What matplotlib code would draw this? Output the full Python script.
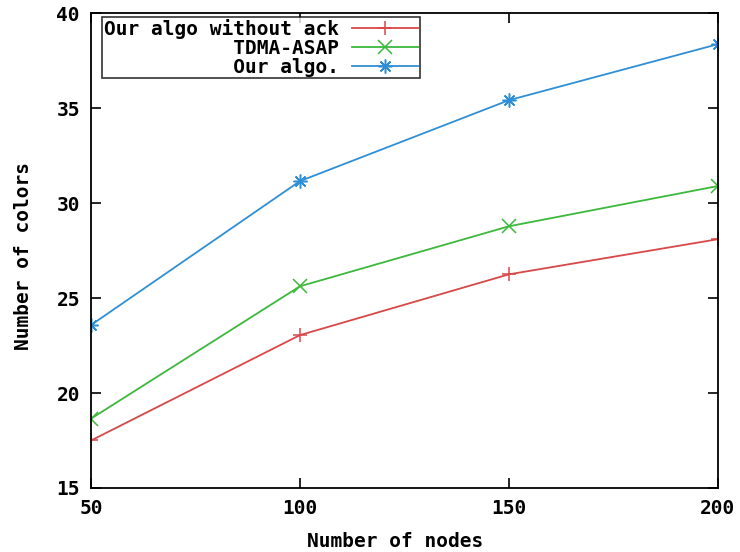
import numpy as np
import matplotlib.pyplot as plt

# values
nodes = [50, 100, 150, 200]
no_ack = [17.5, 23.05, 26.25, 28.1]
tdma_asap = [18.65, 25.62, 28.78, 30.9]
our_algo = [23.58, 31.16, 35.42, 38.37]

labels = ["Our algo without ack", "TDMA-ASAP", "Our algo."]
colors = ["#d94848", "#3cb83c", "#2f8fd6"]
markers = ["+", "x", (8, 2, 0)]

plt.rcParams["font.family"] = "DejaVu Sans Mono"
plt.rcParams["font.weight"] = "bold"

fig = plt.figure(figsize=(7.4, 5.52), dpi=100)
ax = fig.add_axes([0.123, 0.116, 0.847, 0.86])

# pad labels so the monospace text lines up on the right like gnuplot
width = max(len(s) for s in labels)
padded = [s.rjust(width) for s in labels]

for ys, lab, c, m in zip([no_ack, tdma_asap, our_algo], padded, colors, markers):
    ax.plot(nodes, ys, color=c, marker=m, markersize=10, markeredgewidth=1.1,
            linewidth=1.3, label=lab)

ax.set_xlim(50, 200)
ax.set_ylim(15, 40)
ax.set_xticks(nodes)
ax.set_yticks([15, 20, 25, 30, 35, 40])
ax.tick_params(direction="in", length=7, width=1.2, top=True, right=True,
               labelsize=14, pad=8)
for s in ax.spines.values():
    s.set_linewidth(1.3)

ax.set_xlabel("Number of nodes", fontsize=14, fontweight="bold")
ax.set_ylabel("Number of colors", fontsize=14, fontweight="bold")
ax.xaxis.set_label_coords(0.485, -0.092)
ax.yaxis.set_label_coords(-0.092, 0.488)

leg = ax.legend(loc="upper left", bbox_to_anchor=(0.017, 0.993), markerfirst=False,
                fontsize=14, frameon=True, fancybox=False, handlelength=3.4,
                borderpad=0.1, labelspacing=0.0, handletextpad=0.7,
                borderaxespad=0)
leg.get_frame().set_edgecolor("black")
leg.get_frame().set_linewidth(1.2)

fig.savefig("out.png", dpi=100)
